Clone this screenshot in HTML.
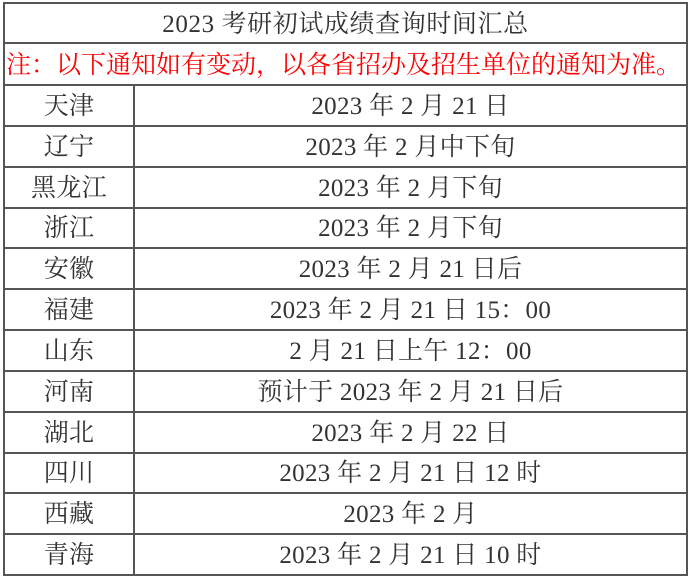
<!DOCTYPE html>
<html>
<head>
<meta charset="utf-8">
<style>
  html,body{margin:0;padding:0;background:#fff;}
  body{width:692px;height:579px;position:relative;overflow:hidden;
    font-family:"Liberation Serif","Noto Serif CJK SC",serif;color:#333;}
  .h{position:absolute;height:2px;background:#555;}
  .v{position:absolute;width:2px;background:#555;}
  .c{position:absolute;display:flex;align-items:center;justify-content:center;
     font-size:25px;white-space:nowrap;line-height:1;padding-top:2px;box-sizing:border-box;letter-spacing:0.3px;}
  .red{color:#ff0000;justify-content:flex-start;letter-spacing:0;}
</style>
</head>
<body>
<!-- horizontal lines -->
<div class="h" style="left:3px;width:685px;top:2px;"></div>
<div class="h" style="left:3px;width:685px;top:42px;"></div>
<div class="h" style="left:3px;width:685px;top:84px;"></div>
<div class="h" style="left:3px;width:685px;top:124.5px;"></div>
<div class="h" style="left:3px;width:685px;top:165.5px;"></div>
<div class="h" style="left:3px;width:685px;top:206.5px;"></div>
<div class="h" style="left:3px;width:685px;top:247px;"></div>
<div class="h" style="left:3px;width:685px;top:288px;"></div>
<div class="h" style="left:3px;width:685px;top:329px;"></div>
<div class="h" style="left:3px;width:685px;top:369.5px;"></div>
<div class="h" style="left:3px;width:685px;top:410.5px;"></div>
<div class="h" style="left:3px;width:685px;top:451.5px;"></div>
<div class="h" style="left:3px;width:685px;top:492px;"></div>
<div class="h" style="left:3px;width:685px;top:533px;"></div>
<div class="h" style="left:3px;width:685px;top:573.5px;"></div>
<!-- vertical lines -->
<div class="v" style="left:3px;top:2px;height:573.5px;"></div>
<div class="v" style="left:686px;top:2px;height:573.5px;"></div>
<div class="v" style="left:133px;top:84px;height:491.5px;"></div>

<!-- title -->
<div class="c" style="left:5px;width:681px;top:4px;height:38px;letter-spacing:0.6px;">2023 考研初试成绩查询时间汇总</div>
<!-- note -->
<div class="c red" style="left:6px;width:680px;top:44px;height:40px;">注：以下通知如有变动，以各省招办及招生单位的通知为准。</div>

<!-- rows -->
<div class="c" style="left:5px;width:128px;top:86px;height:38.5px;">天津</div>
<div class="c" style="left:135px;width:551px;top:86px;height:38.5px;">2023 年 2 月 21 日</div>

<div class="c" style="left:5px;width:128px;top:126.5px;height:39px;">辽宁</div>
<div class="c" style="left:135px;width:551px;top:126.5px;height:39px;">2023 年 2 月中下旬</div>

<div class="c" style="left:5px;width:128px;top:167.5px;height:39px;">黑龙江</div>
<div class="c" style="left:135px;width:551px;top:167.5px;height:39px;">2023 年 2 月下旬</div>

<div class="c" style="left:5px;width:128px;top:208.5px;height:38.5px;">浙江</div>
<div class="c" style="left:135px;width:551px;top:208.5px;height:38.5px;">2023 年 2 月下旬</div>

<div class="c" style="left:5px;width:128px;top:249px;height:39px;">安徽</div>
<div class="c" style="left:135px;width:551px;top:249px;height:39px;">2023 年 2 月 21 日后</div>

<div class="c" style="left:5px;width:128px;top:290px;height:39px;">福建</div>
<div class="c" style="left:135px;width:551px;top:290px;height:39px;">2023 年 2 月 21 日 15：00</div>

<div class="c" style="left:5px;width:128px;top:331px;height:38.5px;">山东</div>
<div class="c" style="left:135px;width:551px;top:331px;height:38.5px;">2 月 21 日上午 12：00</div>

<div class="c" style="left:5px;width:128px;top:371.5px;height:39px;">河南</div>
<div class="c" style="left:135px;width:551px;top:371.5px;height:39px;">预计于 2023 年 2 月 21 日后</div>

<div class="c" style="left:5px;width:128px;top:412.5px;height:39px;">湖北</div>
<div class="c" style="left:135px;width:551px;top:412.5px;height:39px;">2023 年 2 月 22 日</div>

<div class="c" style="left:5px;width:128px;top:453.5px;height:38.5px;">四川</div>
<div class="c" style="left:135px;width:551px;top:453.5px;height:38.5px;">2023 年 2 月 21 日 12 时</div>

<div class="c" style="left:5px;width:128px;top:494px;height:39px;">西藏</div>
<div class="c" style="left:135px;width:551px;top:494px;height:39px;">2023 年 2 月</div>

<div class="c" style="left:5px;width:128px;top:535px;height:38.5px;">青海</div>
<div class="c" style="left:135px;width:551px;top:535px;height:38.5px;">2023 年 2 月 21 日 10 时</div>
</body>
</html>
